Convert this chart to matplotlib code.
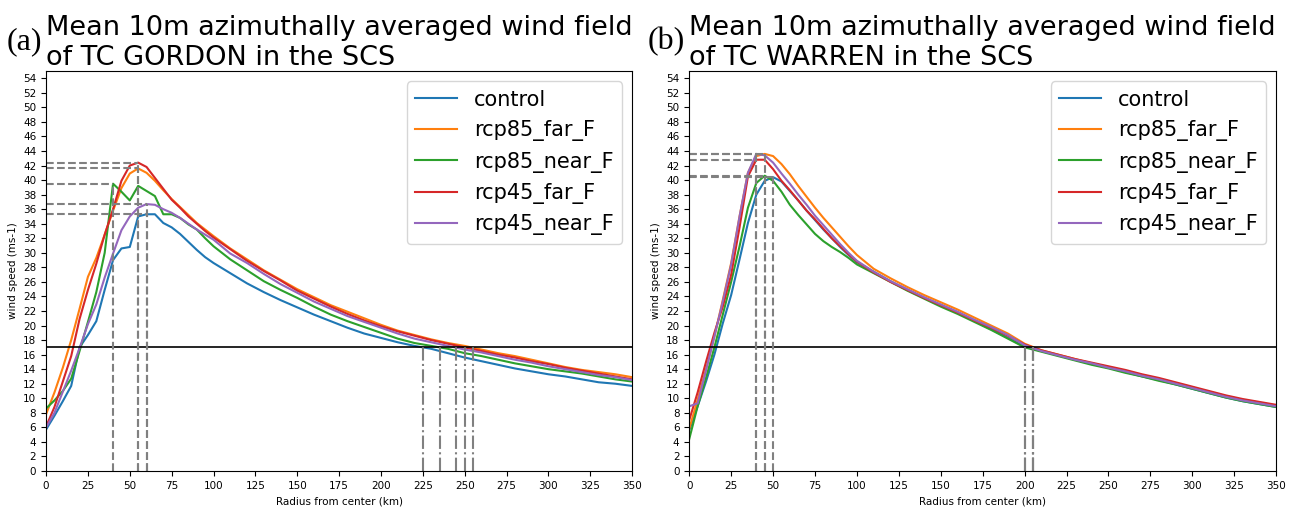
import numpy as np
import matplotlib
matplotlib.use("Agg")
import matplotlib.pyplot as plt

############## data ###############################################################
radius = [0, 5, 10, 15, 20, 25, 30, 35, 40, 45, 50, 55, 60, 65, 70, 75, 80, 85, 90, 95, 100,
          110, 120, 130, 140, 150, 160, 170, 180, 190, 200, 210, 220, 230, 240, 250,
          260, 270, 280, 290, 300, 310, 320, 330, 340, 350]

names = ["control", "rcp85_far_F", "rcp85_near_F", "rcp45_far_F", "rcp45_near_F"]

# TC GORDON
gordon_control = [5.7, 7.6, 9.6, 11.7, 17.0, 18.7, 20.6, 24.9, 29.0, 30.6, 30.8, 35.0, 35.3, 35.3, 34.1, 33.5, 32.6, 31.5, 30.4, 29.4, 28.6,
                  27.2, 25.8, 24.6, 23.5, 22.5, 21.5, 20.6, 19.7, 18.9, 18.3, 17.7, 17.2, 16.8, 16.2, 15.6,
                  15.1, 14.6, 14.1, 13.7, 13.3, 13.0, 12.6, 12.2, 12.0, 11.7]
gordon_rcp85_far = [7.8, 10.8, 14.2, 18.0, 22.3, 26.7, 29.3, 32.5, 35.8, 38.9, 40.9, 41.6, 41.0, 39.9, 38.6, 37.4, 36.3, 35.2, 34.1, 33.2, 32.3,
                    30.6, 29.1, 27.6, 26.3, 25.0, 23.9, 22.8, 21.9, 21.0, 20.1, 19.3, 18.7, 18.1, 17.6, 17.2,
                    16.7, 16.2, 15.8, 15.3, 14.8, 14.3, 13.9, 13.6, 13.3, 12.9]
gordon_rcp85_near = [8.6, 9.7, 11.0, 12.7, 16.5, 20.5, 24.6, 30.0, 39.5, 38.4, 37.2, 39.2, 38.5, 37.8, 35.3, 35.3, 34.8, 33.9, 33.2, 32.0, 30.9,
                     29.1, 27.6, 26.1, 24.9, 23.8, 22.6, 21.5, 20.6, 19.8, 19.0, 18.2, 17.6, 17.2, 16.8, 16.2,
                     15.8, 15.3, 14.8, 14.4, 14.0, 13.7, 13.4, 13.0, 12.6, 12.3]
gordon_rcp45_far = [6.1, 8.8, 12.3, 15.8, 20.9, 24.9, 28.5, 32.5, 36.0, 39.9, 42.0, 42.4, 41.8, 40.3, 38.8, 37.3, 36.2, 35.0, 34.0, 33.0, 32.1,
                    30.5, 28.9, 27.5, 26.2, 24.8, 23.7, 22.6, 21.6, 20.7, 19.9, 19.2, 18.6, 18.0, 17.5, 17.0,
                    16.5, 16.0, 15.6, 15.1, 14.7, 14.2, 13.8, 13.4, 13.0, 12.6]
gordon_rcp45_near = [6.0, 8.0, 10.9, 13.8, 16.9, 20.2, 22.9, 26.6, 29.9, 33.1, 35.0, 36.2, 36.7, 36.6, 36.0, 35.5, 34.8, 34.0, 33.2, 32.5, 31.8,
                     29.9, 28.6, 27.1, 25.7, 24.5, 23.3, 22.3, 21.3, 20.5, 19.7, 18.9, 18.2, 17.7, 17.2, 16.7,
                     16.3, 15.8, 15.3, 14.9, 14.4, 14.0, 13.6, 13.2, 12.9, 12.5]
gordon_cross = [225, 255, 235, 250, 245]   # radius where each run drops to 17 ms-1

# TC WARREN
warren_control = [5.6, 8.9, 12.3, 16.0, 20.3, 24.2, 29.1, 34.1, 38.0, 39.9, 40.4, 39.8, 38.5, 37.2, 35.8, 34.5, 33.2, 32.0, 30.8, 29.7, 28.7,
                  27.4, 26.1, 24.9, 23.8, 22.8, 21.8, 20.6, 19.5, 18.3, 17.1, 16.5, 15.9, 15.3, 14.7, 14.2,
                  13.6, 13.0, 12.5, 11.9, 11.3, 10.7, 10.1, 9.6, 9.2, 8.8]
warren_rcp85_far = [5.8, 9.8, 14.0, 18.5, 23.5, 28.6, 35.0, 41.0, 43.3, 43.6, 43.3, 42.2, 40.8, 39.2, 37.7, 36.2, 34.8, 33.5, 32.2, 30.9, 29.7,
                    27.8, 26.5, 25.3, 24.2, 23.2, 22.2, 21.1, 20.0, 18.9, 17.5, 16.6, 16.0, 15.4, 14.8, 14.3,
                    13.8, 13.2, 12.7, 12.1, 11.5, 10.9, 10.3, 9.8, 9.4, 9.0]
warren_rcp85_near = [4.4, 8.9, 12.8, 17.0, 21.5, 26.0, 30.9, 36.2, 39.6, 40.6, 39.9, 38.4, 36.6, 35.2, 33.9, 32.6, 31.6, 30.8, 30.1, 29.3, 28.4,
                     27.2, 26.0, 24.8, 23.7, 22.6, 21.6, 20.5, 19.4, 18.2, 17.0, 16.4, 15.8, 15.2, 14.6, 14.1,
                     13.5, 13.0, 12.4, 11.9, 11.3, 10.7, 10.1, 9.6, 9.2, 8.8]
warren_rcp45_far = [7.0, 10.8, 15.0, 19.0, 22.6, 27.0, 33.5, 40.5, 42.8, 42.8, 41.5, 39.9, 38.6, 37.2, 35.8, 34.6, 33.3, 32.0, 30.9, 29.8, 28.8,
                    27.3, 26.0, 24.9, 23.8, 22.8, 21.8, 20.7, 19.7, 18.6, 17.4, 16.6, 16.0, 15.4, 14.9, 14.4,
                    13.9, 13.3, 12.8, 12.2, 11.6, 11.0, 10.4, 9.9, 9.5, 9.1]
warren_rcp45_near = [8.9, 9.3, 13.8, 18.5, 23.3, 28.4, 35.0, 41.0, 43.6, 43.4, 42.4, 40.9, 39.5, 38.0, 36.6, 35.1, 33.8, 32.5, 31.2, 30.0, 28.9,
                     27.4, 26.1, 25.0, 23.9, 22.9, 21.9, 20.8, 19.8, 18.7, 17.3, 16.5, 15.9, 15.3, 14.8, 14.2,
                     13.7, 13.1, 12.6, 12.0, 11.4, 10.8, 10.2, 9.7, 9.3, 8.9]
warren_cross = [200, 205, 200, 205, 205]

threshold = 17

############### plotting ###########################################################
def draw(ax, runs, cross, title, tag, tag_x):
    r = np.array(radius)
    for name, v in zip(names, runs):
        ax.plot(r, v, label=name, lw=1.5)
    ax.axhline(threshold, color="black", lw=1.2)
    for v in runs:
        i = int(np.argmax(v))
        ax.plot([0, r[i]], [v[i], v[i]], ls="--", color="grey", lw=1.5)
        ax.plot([r[i], r[i]], [0, v[i]], ls="--", color="grey", lw=1.5)
    for c in cross:
        ax.plot([c, c], [0, threshold], ls="-.", color="grey", lw=1.5)
    ax.set_xlim(0, 350)
    ax.set_ylim(0, 55)
    ax.set_xticks(np.arange(0, 351, 25))
    ax.set_yticks(np.arange(0, 55, 2))
    ax.tick_params(labelsize=7.5)
    ax.set_xlabel("Radius from center (km)", fontsize=7.5)
    ax.set_ylabel("wind speed (ms-1)", fontsize=7.5)
    ax.set_title(title, loc="left", fontsize=19.5, pad=3)
    ax.legend(loc="upper right", fontsize=15)
    ax.figure.text(tag_x, 0.918, tag, fontsize=23, family="Liberation Serif",
                   ha="left", va="center")

fig = plt.figure(figsize=(12.98, 5.07), dpi=100)
ax1 = fig.add_axes([0.0355, 0.071, 0.4515, 0.789])
ax2 = fig.add_axes([0.531, 0.071, 0.4522, 0.789])

draw(ax1, [gordon_control, gordon_rcp85_far, gordon_rcp85_near, gordon_rcp45_far, gordon_rcp45_near],
     gordon_cross, "Mean 10m azimuthally averaged wind field\nof TC GORDON in the SCS", "(a)", 0.005)
draw(ax2, [warren_control, warren_rcp85_far, warren_rcp85_near, warren_rcp45_far, warren_rcp45_near],
     warren_cross, "Mean 10m azimuthally averaged wind field\nof TC WARREN in the SCS", "(b)", 0.499)

fig.savefig("out.png", dpi=100)
